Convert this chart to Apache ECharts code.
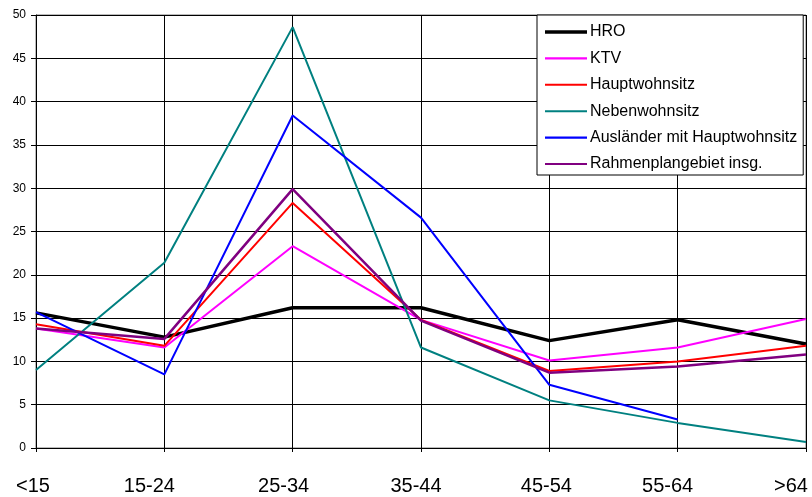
<!DOCTYPE html>
<html>
<head>
<meta charset="utf-8">
<script src="https://cdn.jsdelivr.net/npm/echarts@6/dist/echarts.min.js"></script>
<style>html,body{margin:0;padding:0;background:#fff}#c{width:812px;height:497px}</style>
</head>
<body>
<div id="c"></div>
<script>
const categories = ['<15', '15-24', '25-34', '35-44', '45-54', '55-64', '>64'];
const yTicks = [0, 5, 10, 15, 20, 25, 30, 35, 40, 45, 50];
const seriesNames = ['HRO', 'KTV', 'Hauptwohnsitz', 'Nebenwohnsitz', 'Ausländer mit Hauptwohnsitz', 'Rahmenplangebiet insg.'];
const hro = [15.6, 12.8, 16.2, 16.2, 12.4, 14.8, 12.0];
const ktv = [13.8, 11.6, 23.3, 14.8, 10.1, 11.6, 14.9];
const hauptwohnsitz = [14.3, 11.8, 28.3, 14.8, 8.9, 10.0, 11.8];
const nebenwohnsitz = [9.0, 21.4, 48.6, 11.6, 5.5, 2.9, 0.7];
const auslaender = [15.7, 8.5, 38.4, 26.6, 7.3, 3.3, null];
const rahmenplan = [13.8, 12.6, 29.9, 14.7, 8.7, 9.4, 10.8];

const seriesData = [hro, ktv, hauptwohnsitz, nebenwohnsitz, auslaender, rahmenplan];
const colors = ['#000000', '#ff00ff', '#ff0000', '#008080', '#0000ff', '#800080'];
const widths = [3.5, 2, 2, 2, 2, 2.5];
const labelShift = [3, 15, 9, 5, 3, 10, 15];

const rich = {};
labelShift.forEach((s, i) => { rich['l' + i] = { fontSize: 20, color: '#000', fontFamily: 'Liberation Sans', padding: [0, s * 2, 0, 0] }; });

const chart = echarts.init(document.getElementById('c'), null, { renderer: 'canvas' });
chart.setOption({
  animation: false,
  backgroundColor: '#fff',
  textStyle: { fontFamily: 'Liberation Sans' },
  grid: { left: 36, right: 6, top: 15, bottom: 49, containLabel: false, show: true, borderColor: '#777', borderWidth: 1 },
  legend: {
    orient: 'vertical', left: 537, top: 15,
    data: seriesNames.map((n, i) => ({ name: n, icon: 'path://M0,0H40V' + (i === 0 ? 3.5 : 2) + 'H0Z' })),
    backgroundColor: '#fff', borderColor: '#000', borderWidth: 1,
    padding: [9, 6, 3, 8],
    itemWidth: 42, itemHeight: 16, itemGap: 10.4,
    textStyle: { fontSize: 16, color: '#000', fontFamily: 'Liberation Sans', padding: [0, 0, 0, -2] }
  },
  xAxis: {
    type: 'category', data: categories, boundaryGap: false,
    axisLine: { lineStyle: { color: '#000', width: 1 } },
    axisTick: { show: true, length: 4, lineStyle: { color: '#000' } },
    splitLine: { show: true, lineStyle: { color: '#000', width: 1 } },
    axisLabel: {
      margin: 28, interval: 0,
      formatter: (v, i) => '{l' + i + '|' + v + '}',
      rich: rich
    }
  },
  yAxis: {
    type: 'value', min: yTicks[0], max: yTicks[yTicks.length - 1], interval: 5,
    axisLine: { show: true, lineStyle: { color: '#000', width: 1 } },
    axisTick: { show: true, length: 5, lineStyle: { color: '#000' } },
    splitLine: { show: true, lineStyle: { color: '#000', width: 1 } },
    axisLabel: { fontSize: 12, color: '#000', margin: 10, fontFamily: 'Liberation Sans' }
  },
  series: seriesData.map((d, i) => ({
    name: seriesNames[i], type: 'line', data: d,
    symbol: 'none', showSymbol: false,
    lineStyle: { color: colors[i], width: widths[i] },
    itemStyle: { color: colors[i] },
    emphasis: { disabled: true }
  }))
});
</script>
</body>
</html>
